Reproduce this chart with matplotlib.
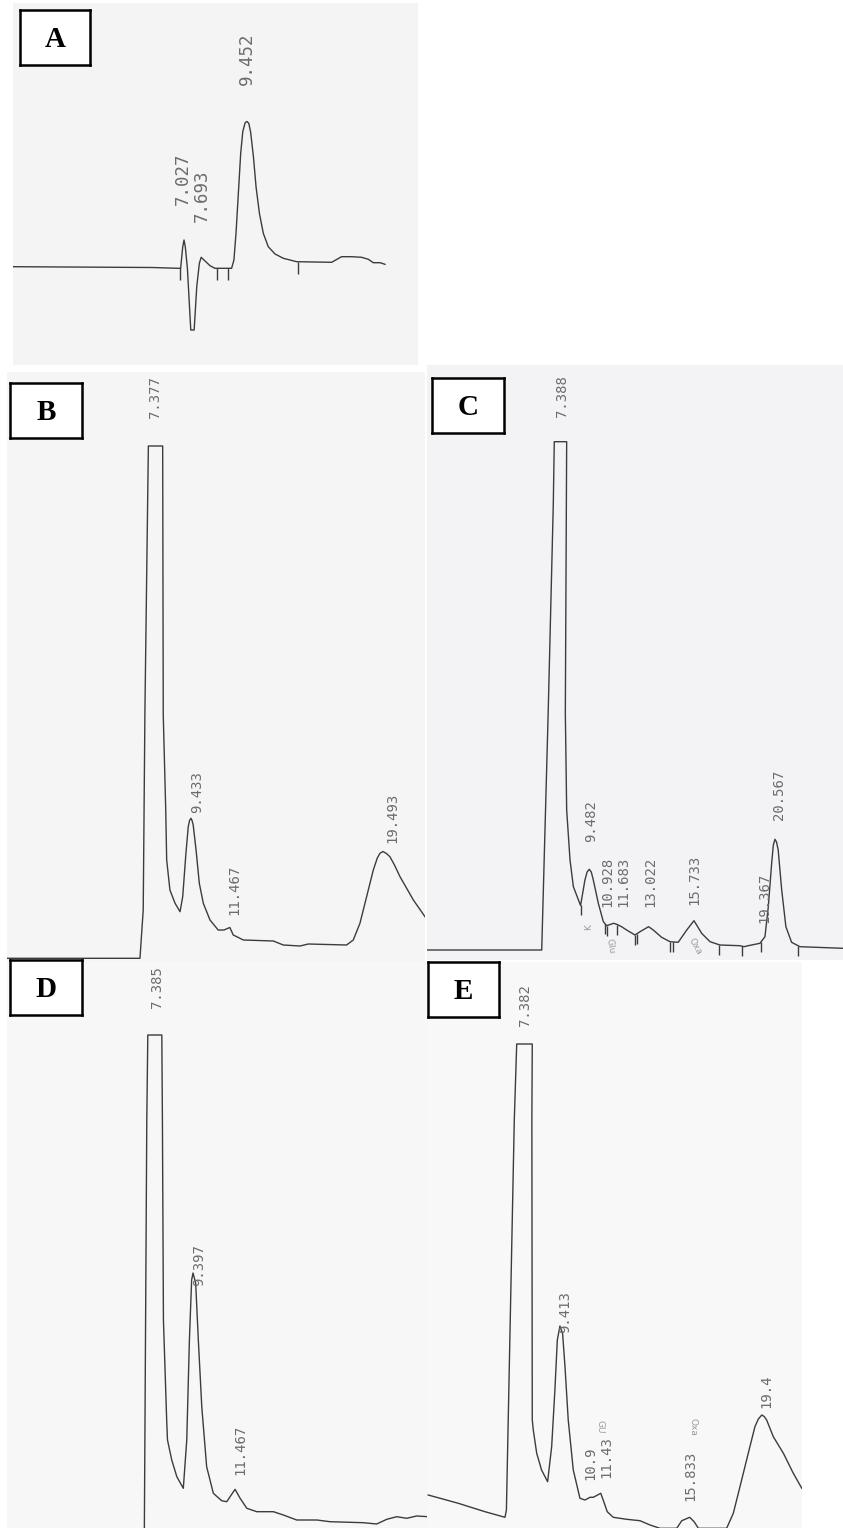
import numpy as np
import matplotlib
matplotlib.use('Agg')
from matplotlib import pyplot as plt

W, H = 843, 1528

# --- chromatogram traces: retention time (min) vs detector signal (mV) ---
a_time = [0.45, 5.80, 6.80, 6.90, 6.98, 7.03, 7.08, 7.16, 7.29, 7.42, 7.52, 7.62,
          7.69, 7.77, 8.03, 8.22, 8.86, 8.95, 9.03, 9.12, 9.21, 9.29,
          9.38, 9.45, 9.52, 9.59, 9.70, 9.80, 9.93, 10.08, 10.27, 10.53,
          10.85, 11.36, 12.71, 13.09, 13.48, 13.86, 14.12, 14.31, 14.57, 14.76]
a_signal = [98.3, 97.5, 96.7, 96.7, 118.0, 125.0, 118.0, 96.7, 35.0, 35.0, 78.3, 101.7,
            107.7, 105.7, 99.3, 96.7, 96.7, 105.0, 131.7, 171.7, 211.7, 233.3,
            242.3, 243.5, 241.7, 233.3, 208.3, 178.3, 151.7, 131.7, 118.3, 111.0,
            106.7, 103.3, 102.7, 108.3, 108.3, 107.7, 105.7, 102.3, 102.3, 100.7]
a_peaks = [7.027, 7.693, 9.452]
a_events = [6.88, 8.29, 8.73, 11.43]

b_time = [-0.21, 6.76, 6.93, 7.02, 7.20, 7.95, 7.98, 8.11, 8.16, 8.33,
          8.60, 8.86, 9.00, 9.17, 9.29, 9.36, 9.43, 9.49, 9.55, 9.70, 9.87, 10.08,
          10.43, 10.86, 11.16, 11.47, 11.65, 12.18, 13.75, 14.27, 15.15, 15.58,
          17.59, 17.94, 18.29, 18.64, 18.99, 19.20, 19.34, 19.49, 19.68, 19.86,
          20.10, 20.39, 21.09, 21.70]
b_signal = [3.7, 3.7, 52, 252, 516, 516, 247, 152, 102, 72,
            58.7, 50.3, 65.3, 109, 135.3, 141.5, 143.7, 141.5, 137, 112, 78.7, 58.7,
            42, 32, 32, 34.5, 27, 22, 21, 17, 16, 18,
            17, 22, 38.7, 65.3, 92, 104, 108.7, 110.5, 108.5, 105.3,
            97, 85.3, 62, 45.3]
b_peaks = [7.377, 9.433, 11.467, 19.493]
b_events = []

c_time = [-0.21, 6.64, 7.03, 7.33, 7.39, 8.13, 8.05, 8.13, 8.33, 8.53,
          8.96, 9.22, 9.35, 9.48, 9.60, 9.72, 10.02, 10.32, 10.52, 10.93, 11.12, 11.41,
          11.71, 12.21, 12.51, 13.02, 13.30, 13.80, 14.30, 14.79, 15.30, 15.73,
          15.89, 16.19, 16.69, 17.28, 18.48, 18.72, 18.97, 19.67, 19.97, 20.17,
          20.37, 20.47, 20.57, 20.66, 20.76, 20.97, 21.22, 21.56, 22.06, 24.63]
c_signal = [10, 10, 250, 455, 518.3, 518.3, 247, 150, 100, 73.3,
            54.5, 80, 88, 90.7, 88, 80, 56.7, 38.3, 34.3, 36.7, 35.7, 33.3,
            30, 25, 28.3, 33.3, 30, 22.7, 18.3, 17.7, 30, 39.3,
            35, 26.7, 18.3, 15, 14.3, 13.3, 14.3, 16.7, 23.3, 53.3,
            96.7, 115, 120.7, 118, 110, 70, 33.3, 17.7, 13.3, 11.7]
c_peaks = [7.388, 9.482, 10.928, 11.683, 13.022, 15.733, 19.367, 20.567]
c_events = [8.97, 10.42, 10.52, 11.15, 12.21, 12.31, 14.30, 14.50,
            17.24, 18.58, 19.71, 21.96]

d_time = [7.00, 7.12, 7.17, 7.86, 7.89, 7.94, 8.10, 8.14, 8.35, 8.60,
          8.92, 9.09, 9.22, 9.33, 9.40, 9.53, 9.66, 9.83, 10.07, 10.40,
          10.81, 11.06, 11.47, 11.72, 12.05, 12.54, 13.36, 13.85, 14.51, 15.50,
          16.15, 17.79, 18.45, 18.95, 19.44, 19.93, 20.42, 20.98]
d_signal = [0, 408, 493, 493, 408, 208, 108, 88, 68, 51.3,
            39.7, 88, 188, 248, 255, 244.7, 188, 121.3, 61.3, 34.7,
            27.3, 26.3, 38.7, 29.7, 19.7, 16.3, 16.3, 13, 8, 8,
            6.3, 5.3, 4, 8.7, 11.3, 9.7, 12, 11.3]
d_peaks = [7.385, 9.397, 11.467]
d_events = []

e_time = [2.89, 4.38, 5.70, 6.69, 6.76, 7.15, 7.27, 8.04, 8.02, 8.04,
          8.09, 8.26, 8.50, 8.80, 9.00, 9.16, 9.28, 9.41, 9.54, 9.66,
          9.82, 10.07, 10.40, 10.65, 10.90, 11.06, 11.43, 11.55, 11.75, 12.05,
          12.71, 13.37, 13.87, 14.36, 15.19, 15.44, 15.83, 16.05, 16.26, 17.66,
          17.99, 18.32, 18.73, 19.06, 19.23, 19.40, 19.52, 19.64, 19.97, 20.47,
          20.96, 21.38]
e_signal = [33, 24.7, 16.3, 10.7, 18, 408, 484, 484, 408, 108,
            98, 74.7, 58, 46.3, 81.3, 138, 188, 202, 194.7, 161.3,
            108, 58, 29.7, 28, 30.7, 30.7, 34.7, 28, 16.3, 10.7,
            8.7, 7.3, 3, -0.3, -0.3, 7.3, 10.7, 6.3, -0.3, -0.3,
            14.7, 41.3, 74.7, 101.3, 109, 113, 111.5, 108, 91.3, 74.7,
            54.7, 39.7]
e_peaks = [7.382, 9.413, 10.9, 11.43, 15.833, 19.4]
e_events = []

# handwritten notes on the printouts (text, time, signal, rotation)
c_notes = [('K', 9.42, 33, 90), ('Glu', 10.72, 14, -80), ('Oxa', 15.79, 14, -60)]
e_notes = [('GU', 11.39, 101, 270), ('Oxa', 15.98, 101, 270)]

# layout of each scanned strip, in pixels of the final figure
panels = [
    dict(tag='A', rect=(13, 3, 418, 365), xlim=(0.452, 16.03), ylim=(0, 362),
         face='#f4f4f4', t=a_time, s=a_signal, peaks=a_peaks, events=a_events,
         lift=[(-1, 35), (1, 35), (0, 37)], fs=12.5, ev_len=12,
         tag_rect=(20, 10, 90, 65), notes=[]),
    dict(tag='B', rect=(7, 372, 425, 962), xlim=(-0.21, 21.70), ylim=(0, 590),
         face='#f5f5f6', t=b_time, s=b_signal, peaks=b_peaks, events=b_events,
         lift=[(3, 28), (6, 5), (5, 13), (9, 9)], fs=10, ev_len=10,
         tag_rect=(10, 383, 82, 438), notes=[]),
    dict(tag='C', rect=(427, 365, 843, 960), xlim=(-0.21, 24.63), ylim=(0, 595),
         face='#f3f3f5', t=c_time, s=c_signal, peaks=c_peaks, events=c_events,
         lift=[(8, 27), (2, 27), (-6, 16), (-3, 23), (2, 20), (0, 16), (9, 21), (4, 19)],
         fs=10, ev_len=10, tag_rect=(432, 378, 504, 433), notes=c_notes),
    dict(tag='D', rect=(7, 962, 428, 1528), xlim=(0.23, 20.98), ylim=(0, 566),
         face='#f7f7f7', t=d_time, s=d_signal, peaks=d_peaks, events=d_events,
         lift=[(5, 27), (6, -13), (5, 14)], fs=10, ev_len=10,
         tag_rect=(10, 960, 82, 1015), notes=[]),
    dict(tag='E', rect=(427, 962, 802, 1528), xlim=(2.83, 21.39), ylim=(0, 566),
         face='#f8f8f8', t=e_time, s=e_signal, peaks=e_peaks, events=e_events,
         lift=[(6, 29), (5, -7), (0, 17), (6, 15), (1, 16), (5, 7)], fs=10, ev_len=10,
         tag_rect=(428, 962, 499, 1017), notes=e_notes),
]


def px_axes(fig, x0, y0, x1, y1):
    return fig.add_axes([x0 / W, 1 - y1 / H, (x1 - x0) / W, (y1 - y0) / H])


fig = plt.figure(figsize=(W / 100, H / 100), dpi=100)
fig.patch.set_facecolor('white')

trace_col = '#3c3c3c'
label_col = '#6c6c6c'

for p in panels:
    ax = px_axes(fig, *p['rect'])
    ax.set_facecolor(p['face'])
    ax.set_xlim(p['xlim'])
    ax.set_ylim(p['ylim'])
    ax.set_xticks([])
    ax.set_yticks([])
    for sp in ax.spines.values():
        sp.set_visible(False)

    t = np.array(p['t'])
    s = np.array(p['s'])
    ax.plot(t, s, color=trace_col, lw=1.0, solid_joinstyle='round')

    # integrator event marks hanging below the trace
    for ev in p['events']:
        top = np.interp(ev, t, s)
        ax.vlines(ev, top - p['ev_len'], top, color=trace_col, lw=1.0)

    # retention-time labels printed above each peak
    order = np.argsort(t, kind='stable')
    for rt, (dx, dy) in zip(p['peaks'], p['lift']):
        apex = np.interp(rt, t[order], s[order])
        ax.annotate(f'{rt:g}', xy=(rt, apex), xytext=(dx, dy),
                    textcoords='offset pixels', rotation=90,
                    ha='center', va='bottom', fontsize=p['fs'],
                    family='DejaVu Sans Mono', color=label_col)

    for txt, nt, ns, rot in p['notes']:
        ax.text(nt, ns, txt, rotation=rot, ha='center', va='center',
                fontsize=6.5, color='#9a9a9a', family='DejaVu Sans')

    # panel letter in a boxed frame
    tx = px_axes(fig, *p['tag_rect'])
    tx.set_facecolor('white')
    tx.set_xticks([])
    tx.set_yticks([])
    for sp in tx.spines.values():
        sp.set_linewidth(1.8)
        sp.set_color('black')
    tx.text(0.5, 0.46, p['tag'], ha='center', va='center', fontsize=21,
            fontweight='bold', family='Liberation Serif', transform=tx.transAxes)

fig.savefig('out.png', dpi=100)
